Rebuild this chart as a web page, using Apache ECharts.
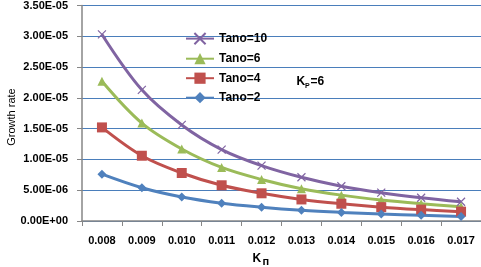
<!DOCTYPE html>
<html>
<head>
<meta charset="utf-8">
<script src="https://cdn.jsdelivr.net/npm/echarts@6/dist/echarts.min.js"></script>
<style>
html,body{margin:0;padding:0;background:#fff;}
#c{width:481px;height:267px;}
</style>
</head>
<body>
<div id="c"></div>
<script>
const categories = ['0.008','0.009','0.010','0.011','0.012','0.013','0.014','0.015','0.016','0.017'];
const seriesNames = ['Tano=10','Tano=6','Tano=4','Tano=2'];
const tano10 = [3.03e-5, 2.13e-5, 1.56e-5, 1.16e-5, 9.0e-6, 7.1e-6, 5.65e-6, 4.6e-6, 3.78e-6, 3.12e-6];
const tano6  = [2.27e-5, 1.59e-5, 1.17e-5, 8.7e-6, 6.75e-6, 5.25e-6, 4.2e-6, 3.4e-6, 2.8e-6, 2.3e-6];
const tano4  = [1.52e-5, 1.06e-5, 7.8e-6, 5.8e-6, 4.5e-6, 3.5e-6, 2.8e-6, 2.25e-6, 1.85e-6, 1.52e-6];
const tano2  = [7.6e-6, 5.4e-6, 3.9e-6, 2.9e-6, 2.25e-6, 1.75e-6, 1.4e-6, 1.13e-6, 0.93e-6, 0.75e-6];
const yMin = 0, yMax = 3.5e-5, yStep = 5e-6;

function sci(v){
  if (Math.abs(v) < 1e-15) return '0.00E+00';
  let e = Math.floor(Math.log10(Math.abs(v)) + 1e-9);
  let m = v / Math.pow(10, e);
  return m.toFixed(2) + 'E' + (e < 0 ? '-' : '+') + String(Math.abs(e)).padStart(2, '0');
}

const FONT = '"Liberation Sans", Arial, sans-serif';
const chart = echarts.init(document.getElementById('c'), null, {renderer:'canvas'});
const crossPath = 'path://M0,0L10,10M10,0L0,10';

function mk(name, data, color, symbol, size, extra){
  return Object.assign({
    name, type:'line', data, smooth:0.35,
    symbol, symbolSize:size, showSymbol:true,
    lineStyle:{color, width:3},
    itemStyle:{color, borderColor:color, borderWidth:0},
    emphasis:{disabled:true},
    animation:false
  }, extra||{});
}

chart.setOption({
  animation:false,
  grid:{left:82, top:4, width:399, height:217, containLabel:false},
  legend:{
    data:seriesNames, orient:'vertical', left:180, top:27,
    itemWidth:28, itemHeight:14, itemGap:7.5,
    textStyle:{fontFamily:FONT, fontWeight:'bold', fontSize:12, color:'#000'}
  },
  xAxis:{
    type:'category', data:categories, boundaryGap:true,
    axisLine:{lineStyle:{color:'#868686', width:1.5}},
    axisTick:{show:true, length:5, lineStyle:{color:'#868686'}},
    axisLabel:{fontFamily:FONT, fontWeight:'bold', fontSize:11, color:'#000', margin:14},
    splitLine:{show:false}
  },
  yAxis:{
    type:'value', min:yMin, max:yMax, interval:yStep,
    axisLine:{show:true, lineStyle:{color:'#868686', width:1.5}},
    axisTick:{show:true, length:5, lineStyle:{color:'#868686'}},
    axisLabel:{fontFamily:FONT, fontWeight:'bold', fontSize:11, color:'#000', margin:14, formatter:sci},
    splitLine:{show:true, lineStyle:{color:'#4A7EBB', width:1}}
  },
  series:[
    mk('Tano=10', tano10, '#8064A2', crossPath, 8, {itemStyle:{color:'#8064A2', borderColor:'#8064A2', borderWidth:1.2}}),
    mk('Tano=6', tano6, '#9BBB59', 'triangle', 9),
    mk('Tano=4', tano4, '#C0504D', 'rect', 10),
    mk('Tano=2', tano2, '#4F81BD', 'diamond', 9)
  ],
  graphic:[
    {type:'text', x:12, y:117, rotation:Math.PI/2,
     style:{text:'Growth rate', x:0, y:0, align:'center', verticalAlign:'middle', fontFamily:FONT, fontSize:11, fill:'#000'}},
    {type:'text', x:252.5, y:259,
     style:{text:'K', align:'left', verticalAlign:'middle', fontFamily:FONT, fontWeight:'bold', fontSize:12, fill:'#000'}},
    {type:'text', x:262.5, y:262,
     style:{text:'п', align:'left', verticalAlign:'middle', fontFamily:FONT, fontWeight:'bold', fontSize:11, fill:'#000'}},
    {type:'text', x:296.5, y:82,
     style:{text:'K', align:'left', verticalAlign:'middle', fontFamily:FONT, fontWeight:'bold', fontSize:12, fill:'#000'}},
    {type:'text', x:305, y:86,
     style:{text:'P', align:'left', verticalAlign:'middle', fontFamily:FONT, fontWeight:'bold', fontSize:7, fill:'#000'}},
    {type:'text', x:310.5, y:82,
     style:{text:'=6', align:'left', verticalAlign:'middle', fontFamily:FONT, fontWeight:'bold', fontSize:12, fill:'#000'}}
  ]
});
</script>
</body>
</html>
